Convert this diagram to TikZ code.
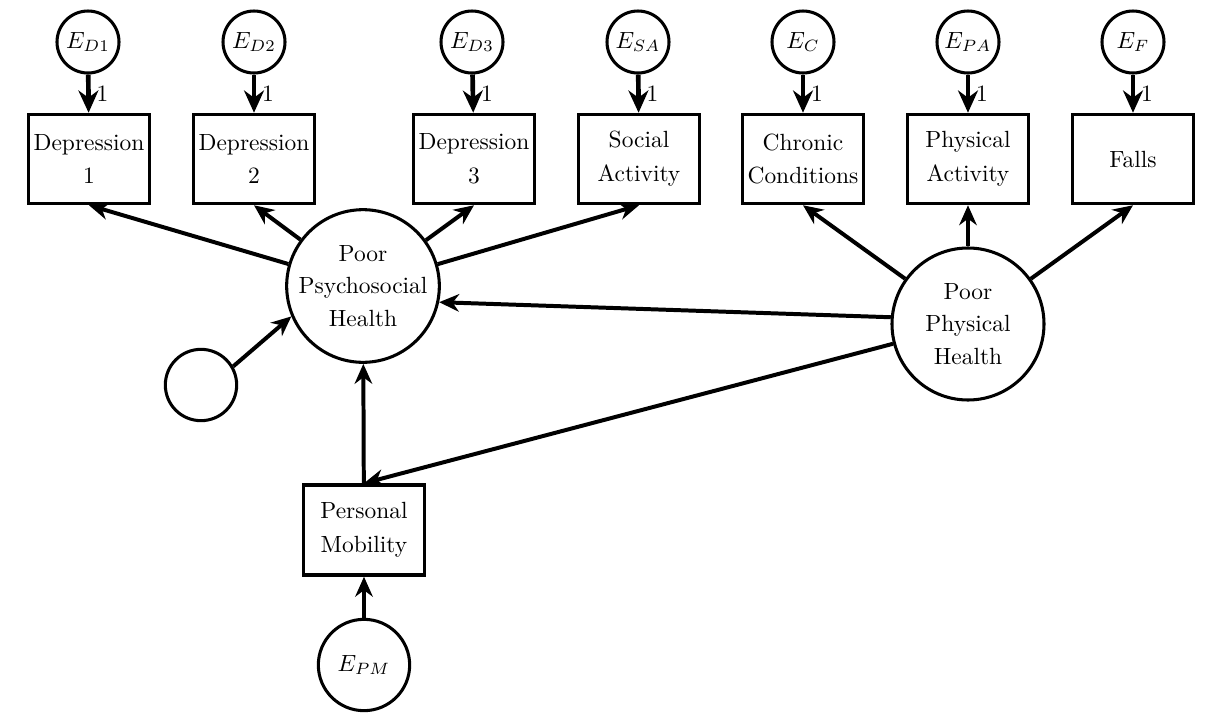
\documentclass[tikz,border=0pt]{standalone}
\usepackage{amsmath}
\usepackage{tikz}
\usetikzlibrary{arrows.meta}

\tikzset{
  box/.style={draw, line width=1.5pt, minimum width=1.815cm, minimum height=1.335cm, align=center, inner sep=1pt, font=\fontsize{10}{14.5}\selectfont},
  latent/.style={draw, circle, line width=1.3pt, align=center, inner sep=0pt, font=\fontsize{10}{14}\selectfont},
  err/.style={draw, circle, line width=1.3pt, minimum size=0.93cm, inner sep=0pt},
  arr/.style={line width=1.7pt, -{Stealth[length=8.5pt, width=7.5pt]}},
  errarr/.style={line width=2pt, -{Stealth[length=9.5pt, width=8.5pt]}}
}

\begin{document}
\begin{tikzpicture}[x=0.015cm, y=-0.015cm]
    \useasboundingbox (0, 0) rectangle (1210, 722);
    % error terms
    \node[err] (ED1) at (88, 42){$E_{D1}$};
    \node[err] (ED2) at (254, 42){$E_{D2}$};
    \node[err] (ED3) at (472, 42){$E_{D3}$};
    \node[err] (ESA) at (638, 42){$E_{SA}$};
    \node[err] (EC) at (803, 42){$E_{C}$};
    \node[err] (EPA) at (968, 42){$E_{PA}$};
    \node[err] (EF) at (1133, 42){$E_{F}$};
    % indicators
    \node[box] (D1) at (89, 159){Depression\\1};
    \node[box] (D2) at (254, 159){Depression\\2};
    \node[box] (D3) at (474, 159){Depression\\3};
    \node[box] (SA) at (639, 159){Social\\Activity};
    \node[box] (CC) at (803, 159){Chronic\\Conditions};
    \node[box] (PA) at (968, 159){Physical\\Activity};
    \node[box] (F) at (1133, 159){Falls};
    % latent variables
    \node[latent, minimum size=2.27cm] (PPH) at (363, 286){Poor\\Psychosocial\\Health};
    \node[latent, minimum size=2.28cm] (PHY) at (968, 324){Poor\\Physical\\Health};
    \node[latent, minimum size=1.07cm] (Z) at (201, 385){};
    \node[box, minimum height=1.35cm] (PM) at (364, 530){Personal\\Mobility};
    \node[latent, minimum size=1.37cm] (EPM) at (364, 665){$E_{PM}$};

    \draw[errarr] (ED1)--(D1) node[midway, right, inner sep=2.5pt]{1};
    \draw[errarr] (ED2)--(D2) node[midway, right, inner sep=2.5pt]{1};
    \draw[errarr] (ED3)--(D3) node[midway, right, inner sep=2.5pt]{1};
    \draw[errarr] (ESA)--(SA) node[midway, right, inner sep=2.5pt]{1};
    \draw[errarr] (EC)--(CC) node[midway, right, inner sep=2.5pt]{1};
    \draw[errarr] (EPA)--(PA) node[midway, right, inner sep=2.5pt]{1};
    \draw[errarr] (EF)--(F) node[midway, right, inner sep=2.5pt]{1};

    \draw[arr] (PPH)--(D1.south);
    \draw[arr] (PPH)--(D2.south);
    \draw[arr] (PPH)--(D3.south);
    \draw[arr] (PPH)--(SA.south);
    \draw[arr] (PHY)--(CC.south);
    \draw[arr] (PHY)--(PA.south);
    \draw[arr] (PHY)--(F.south);
    \draw[arr] (PHY.175)--(PPH.-12);
    \draw[arr] (PHY)--(PM.north);
    \draw[arr] (PM)--(PPH);
    \draw[arr] (Z.30)--(PPH.203);
    \draw[arr] (EPM)--(PM);
  \end{tikzpicture}
\end{document}
